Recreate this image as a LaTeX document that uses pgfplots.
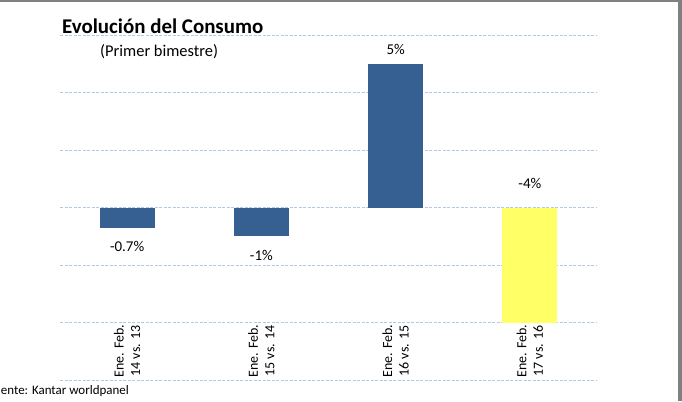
\documentclass[border=0pt]{standalone}
\usepackage{pgfplots}
\pgfplotsset{compat=1.18}
\usepackage{fontspec}
\setmainfont{Carlito}
\definecolor{barblue}{HTML}{376092}
\definecolor{baryellow}{HTML}{FFFF66}
\definecolor{gridblue}{HTML}{B4C7E7}
\definecolor{framegray}{HTML}{808080}
\begin{document}
\begin{tikzpicture}[x=1bp,y=1bp]
\begin{axis}[
  at={(60bp,21bp)}, anchor=south west,
  width=537bp, height=345bp, scale only axis,
  xmin=-0.5, xmax=3.5, ymin=-6, ymax=6,
  ytick={-6,-4,-2,0,2,4,6}, yticklabels={},
  ymajorgrids,
  grid style={gridblue, line width=0.8bp, dash pattern=on 3bp off 1.5bp},
  axis line style={draw=none},
  major tick length=0pt,
  xtick={0,1,2,3},
  xticklabels={{Ene. Feb.\\14 vs. 13},{Ene. Feb.\\15 vs. 14},{Ene. Feb.\\16 vs. 15},{Ene. Feb.\\17 vs. 16}},
  xticklabel style={yshift=29bp, rotate=90, anchor=center, align=center, font=\fontsize{14}{16.5}\selectfont},
  clip=false,
  bar width=55bp,
  point meta=explicit symbolic,
]
\addplot[ybar, bar shift=0pt, fill=barblue, draw=none, nodes near coords,
  nodes near coords style={anchor=center, yshift=-19bp, font=\fontsize{15}{17}\selectfont, text=black}]
  coordinates {(0,-0.7) [-0.7\%]};
\addplot[ybar, bar shift=0pt, fill=barblue, draw=none, nodes near coords,
  nodes near coords style={anchor=center, yshift=-19bp, font=\fontsize{15}{17}\selectfont, text=black}]
  coordinates {(1,-1) [-1\%]};
\addplot[ybar, bar shift=0pt, fill=barblue, draw=none, nodes near coords,
  nodes near coords style={anchor=center, yshift=14.5bp, font=\fontsize{15}{17}\selectfont, text=black}]
  coordinates {(2,5) [5\%]};
\addplot[ybar, bar shift=0pt, fill=baryellow, draw=none, nodes near coords,
  nodes near coords style={anchor=center, yshift=139bp, font=\fontsize{15}{17}\selectfont, text=black}]
  coordinates {(3,-4) [-4\%]};
\end{axis}
\node[anchor=base west, font=\fontsize{21}{24}\selectfont\bfseries, inner sep=0pt] at (62,368) {Evolución del Consumo};
\node[anchor=base west, font=\fontsize{16.5}{19}\selectfont, inner sep=0pt] at (100,345) {(Primer bimestre)};
\node[anchor=base east, font=\fontsize{13}{15}\selectfont, inner sep=0pt] at (129,7) {Fuente: Kantar worldpanel};
\fill[framegray] (0,399) rectangle (682,401);
\fill[framegray] (678,0) rectangle (682,401);
\pgfresetboundingbox
\useasboundingbox (0,0) rectangle (682,401);
\end{tikzpicture}
\end{document}
